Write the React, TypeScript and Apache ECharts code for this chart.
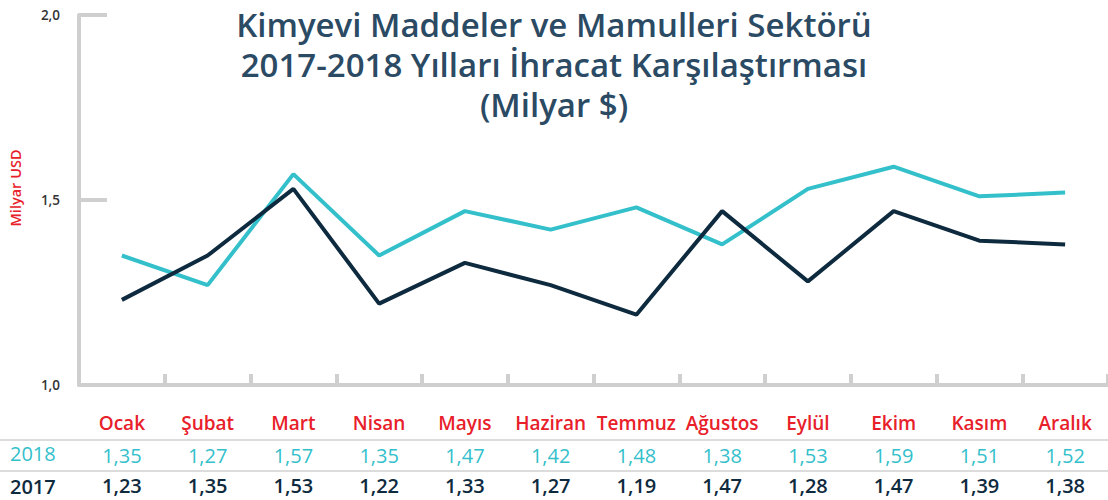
import React, { useEffect, useRef } from "react";
import * as echarts from "echarts";

const months = ["Ocak", "Şubat", "Mart", "Nisan", "Mayıs", "Haziran", "Temmuz", "Ağustos", "Eylül", "Ekim", "Kasım", "Aralık"];
const values2018 = [1.35, 1.27, 1.57, 1.35, 1.47, 1.42, 1.48, 1.38, 1.53, 1.59, 1.51, 1.52];
const values2017 = [1.23, 1.35, 1.53, 1.22, 1.33, 1.27, 1.19, 1.47, 1.28, 1.47, 1.39, 1.38];
const yTicks = [1.0, 1.5, 2.0];
const titleLines = [
  "Kimyevi Maddeler ve Mamulleri Sektörü",
  "2017-2018 Yılları İhracat Karşılaştırması",
  "(Milyar $)",
];

const TEAL = "#33c0cb";
const NAVY = "#0e2a3e";
const RED = "#e8202a";
const GRAY = "#cfcfcf";
const FONT = "'Open Sans', Lato, sans-serif";

const fmt = (v: number, d: number) => v.toFixed(d).replace(".", ",");

export default function App() {
  const ref = useRef<HTMLDivElement>(null);
  useEffect(() => {
    document.body.style.margin = "0";
    const chart = echarts.init(ref.current!, undefined, { renderer: "svg" });
    chart.setOption({
      animation: false,
      textStyle: { fontFamily: FONT },
      title: {
        text: titleLines.join("\n"),
        left: "center",
        top: -1,
        textStyle: { fontFamily: FONT, fontSize: 33, fontWeight: 600, color: "#2b4a64", lineHeight: 40 },
      },
      grid: { left: 77, right: 0, top: 15, bottom: 115 },
      xAxis: {
        type: "category",
        data: months,
        boundaryGap: true,
        axisLine: { lineStyle: { color: GRAY, width: 4 } },
        axisTick: { show: true, inside: true, length: 11, lineStyle: { color: GRAY, width: 4 } },
        axisLabel: {
          interval: 0,
          margin: 22,
          formatter: (val: string, i: number) =>
            `{m|${val}}\n{a|${fmt(values2018[i], 2)}}\n{b|${fmt(values2017[i], 2)}}`,
          rich: {
            m: { color: RED, fontSize: 19, fontWeight: 600, lineHeight: 32, fontFamily: FONT },
            a: { color: TEAL, fontSize: 20, fontWeight: 500, lineHeight: 32, fontFamily: FONT },
            b: { color: NAVY, fontSize: 20, fontWeight: 600, lineHeight: 22, padding: [6, 0, 0, 0], fontFamily: FONT },
          },
        },
        splitLine: { show: false },
      },
      yAxis: {
        type: "value",
        min: yTicks[0],
        max: yTicks[yTicks.length - 1],
        interval: 0.5,
        name: "Milyar USD",
        nameLocation: "middle",
        nameGap: 56,
        nameTextStyle: { color: RED, fontSize: 14.5, fontWeight: 600, fontFamily: FONT, padding: [0, 0, 0, 24] },
        axisLine: { show: true, lineStyle: { color: GRAY, width: 4 } },
        axisTick: { show: true, inside: true, length: 28, lineStyle: { color: GRAY, width: 4 } },
        axisLabel: {
          margin: 19,
          color: "#333",
          fontSize: 13.5,
          fontWeight: 600,
          formatter: (v: number) => fmt(v, 1),
        },
        splitLine: { show: false },
      },
      series: [
        {
          name: "2018",
          type: "line",
          data: values2018,
          symbol: "none",
          lineStyle: { color: TEAL, width: 4 },
          itemStyle: { color: TEAL },
        },
        {
          name: "2017",
          type: "line",
          data: values2017,
          symbol: "none",
          lineStyle: { color: NAVY, width: 4 },
          itemStyle: { color: NAVY },
        },
      ],
      graphic: [
        { type: "line", shape: { x1: 0, y1: 440, x2: 1108, y2: 440 }, style: { stroke: "#dcdcdc", lineWidth: 2 } },
        { type: "line", shape: { x1: 0, y1: 471, x2: 1108, y2: 471 }, style: { stroke: "#dcdcdc", lineWidth: 2 } },
        {
          type: "text",
          left: 10,
          top: 443,
          style: { text: "2018", fill: TEAL, font: `500 20px ${FONT}` },
        },
        {
          type: "text",
          left: 10,
          top: 476,
          style: { text: "2017", fill: NAVY, font: `600 20px ${FONT}` },
        },
      ],
    });
    return () => chart.dispose();
  }, []);
  return <div ref={ref} style={{ width: 1108, height: 500 }} />;
}
